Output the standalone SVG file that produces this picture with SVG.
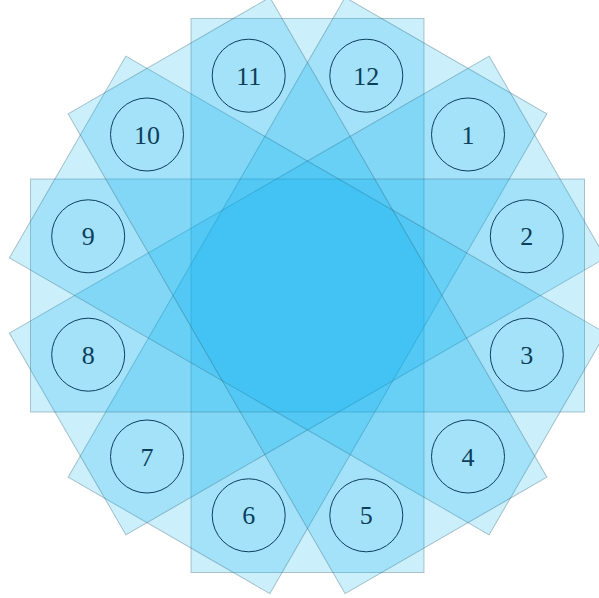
<svg xmlns="http://www.w3.org/2000/svg" width="599" height="598" viewBox="0 0 599 598">
<style>
.r{fill:#00AEEF;fill-opacity:0.2;stroke:#2f5f70;stroke-opacity:0.35;stroke-width:1}
.c{fill:none;stroke:#0c3f5c;stroke-width:1}
.t{font-family:"Liberation Serif","DejaVu Serif",serif;font-size:26px;fill:#0c3f5c;text-anchor:middle}
</style>
<rect width="599" height="598" fill="#ffffff"/>
<g id="squares">
<rect class="r" x="-116.5" y="-277" width="233" height="554" transform="translate(307.5 295.5)"/>
<rect class="r" x="-116.5" y="-277" width="233" height="554" transform="translate(307.5 295.5) rotate(30)"/>
<rect class="r" x="-116.5" y="-277" width="233" height="554" transform="translate(307.5 295.5) rotate(60)"/>
<rect class="r" x="-116.5" y="-277" width="233" height="554" transform="translate(307.5 295.5) rotate(90)"/>
<rect class="r" x="-116.5" y="-277" width="233" height="554" transform="translate(307.5 295.5) rotate(120)"/>
<rect class="r" x="-116.5" y="-277" width="233" height="554" transform="translate(307.5 295.5) rotate(150)"/>
</g>
<g id="connectors"></g>
<g id="n1"><circle class="c" cx="468" cy="134.5" r="36.5"/><text class="t" x="468" y="143.5">1</text></g>
<g id="n2"><circle class="c" cx="526.8" cy="236.3" r="36.5"/><text class="t" x="526.8" y="245.3">2</text></g>
<g id="n3"><circle class="c" cx="526.8" cy="354.7" r="36.5"/><text class="t" x="526.8" y="363.7">3</text></g>
<g id="n4"><circle class="c" cx="468" cy="456.5" r="36.5"/><text class="t" x="468" y="465.5">4</text></g>
<g id="n5"><circle class="c" cx="366.3" cy="515.3" r="36.5"/><text class="t" x="366.3" y="524.3">5</text></g>
<g id="n6"><circle class="c" cx="248.7" cy="515.3" r="36.5"/><text class="t" x="248.7" y="524.3">6</text></g>
<g id="n7"><circle class="c" cx="147" cy="456.5" r="36.5"/><text class="t" x="147" y="465.5">7</text></g>
<g id="n8"><circle class="c" cx="88.2" cy="354.7" r="36.5"/><text class="t" x="88.2" y="363.7">8</text></g>
<g id="n9"><circle class="c" cx="88.2" cy="236.3" r="36.5"/><text class="t" x="88.2" y="245.3">9</text></g>
<g id="n10"><circle class="c" cx="147" cy="134.5" r="36.5"/><text class="t" x="147" y="143.5">10</text></g>
<g id="n11"><circle class="c" cx="248.7" cy="75.7" r="36.5"/><text class="t" x="248.7" y="84.7">11</text></g>
<g id="n12"><circle class="c" cx="366.3" cy="75.7" r="36.5"/><text class="t" x="366.3" y="84.7">12</text></g>
</svg>
